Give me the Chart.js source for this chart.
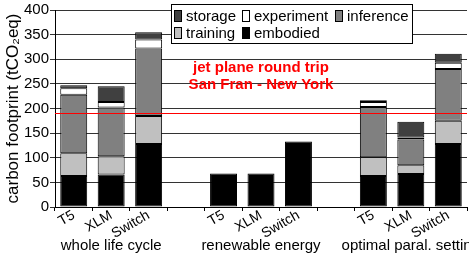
<!DOCTYPE html>
<html>
<head>
<meta charset="utf-8">
<script src="https://cdn.jsdelivr.net/npm/chart.js@4"></script>
<style>
  body { margin: 0; background: #fff; }
  canvas { display: block; }
</style>
</head>
<body>
<canvas id="footprint" width="469" height="258"></canvas>
<script>
// categories (blank slots separate the three groups)
const models = ['T5', 'XLM', 'Switch', '', 'T5', 'XLM', 'Switch', '', 'T5', 'XLM', 'Switch'];
const groupNames = ['whole life cycle', 'renewable energy', 'optimal paral. setting'];
const groupCenters = [1, 5, 9];

// stacked values, tCO2eq
const embodied   = [63, 66, 128, null, 68, 68, 133, null, 63, 67, 128];
const training   = [46, 37, 57,  null, null, null, null, null, 38, 18, 47];
const inference  = [119, 99, 137, null, null, null, null, null, 102, 52, 105];
const experiment = [13, 11, 18,  null, null, null, null, null, 10, 4, 13];
const storage    = [6, 32, 15,   null, null, null, null, null, 4, 32, 18];

const jetPlane = 190;
const jetText = ['jet plane round trip', 'San Fran - New York'];

const FONT = 'Liberation Sans, Arial, sans-serif';

const series = [
  { label: 'embodied', data: embodied, color: '#000000' },
  { label: 'training', data: training, color: '#c0c0c0' },
  { label: 'inference', data: inference, color: '#808080' },
  { label: 'experiment', data: experiment, color: '#ffffff' },
  { label: 'storage', data: storage, color: '#404040' },
];

// legend rows as in the figure
const legendRows = [['storage', 'experiment', 'inference'], ['training', 'embodied']];

const extras = {
  id: 'extras',
  afterDatasetsDraw(chart) {
    const ctx = chart.ctx;
    const x = chart.scales.x, y = chart.scales.y;
    const area = chart.chartArea;

    // jet plane reference line
    const yy = Math.round(y.getPixelForValue(jetPlane)) + 0.5;
    ctx.save();
    ctx.strokeStyle = '#ff0000';
    ctx.lineWidth = 1;
    ctx.beginPath();
    ctx.moveTo(area.left, yy);
    ctx.lineTo(area.right, yy);
    ctx.stroke();

    ctx.fillStyle = '#ff0000';
    ctx.font = 'bold 15px ' + FONT;
    ctx.textAlign = 'center';
    ctx.textBaseline = 'middle';
    const cx = x.getPixelForValue(5);
    ctx.fillText(jetText[0], cx, 68);
    ctx.fillText(jetText[1], cx, 85);

    // legend
    ctx.fillStyle = '#fff';
    ctx.fillRect(171.5, 4.5, 241, 39);
    ctx.strokeStyle = '#000';
    ctx.strokeRect(171.5, 4.5, 241, 39);
    const cols = [174, 242, 335];
    ctx.font = '15px ' + FONT;
    ctx.textAlign = 'left';
    legendRows.forEach((row, r) => {
      const cyRow = r === 0 ? 16 : 33;
      row.forEach((name, c) => {
        const s = series.find(d => d.label === name);
        ctx.fillStyle = s.color;
        ctx.fillRect(cols[c] + 0.5, cyRow - 5.5, 7, 11);
        ctx.strokeStyle = '#000';
        ctx.strokeRect(cols[c] + 0.5, cyRow - 5.5, 7, 11);
        ctx.fillStyle = '#000';
        ctx.fillText(name, cols[c] + 12, cyRow + 1);
      });
    });

    // group names under the x axis
    ctx.textAlign = 'center';
    ctx.fillStyle = '#000';
    groupNames.forEach((g, i) => {
      ctx.fillText(g, x.getPixelForValue(groupCenters[i]), 246);
    });
    ctx.restore();
  }
};

new Chart(document.getElementById('footprint'), {
  type: 'bar',
  data: {
    labels: models,
    datasets: series.map(s => ({
      label: s.label,
      data: s.data,
      backgroundColor: s.color,
      borderColor: '#000',
      borderWidth: 1,
      borderSkipped: false,
      barPercentage: 0.72,
      categoryPercentage: 1.0,
    }))
  },
  options: {
    responsive: false,
    animation: false,
    layout: { padding: { top: 7, right: 2, left: 0, bottom: 0 } },
    plugins: {
      legend: { display: false },
      tooltip: { enabled: false },
    },
    scales: {
      x: {
        stacked: true,
        offset: true,
        border: { color: '#000', width: 1 },
        grid: { offset: true, drawOnChartArea: false, tickLength: 4, color: '#000' },
        ticks: {
          font: { family: FONT, size: 14 },
          color: '#000',
          maxRotation: 30,
          minRotation: 30,
          autoSkip: false,
          padding: -4,
        },
        afterFit(scale) { scale.height = 51; },
      },
      y: {
        stacked: true,
        min: 0,
        max: 400,
        border: { color: '#000', width: 1 },
        grid: {
          color: ctx => (ctx.tick && ctx.tick.value % 50 === 0) ? '#333' : '#c8c8c8',
          tickLength: 5,
        },
        ticks: {
          stepSize: 25,
          font: { family: FONT, size: 15 },
          color: '#000',
          padding: 1,
          callback: v => (v % 50 === 0 ? v : ''),
        },
        title: {
          display: true,
          text: 'carbon footprint (tCO₂eq)',
          font: { family: FONT, size: 17 },
          color: '#000',
          padding: { top: 3, bottom: 0 },
        },
        afterFit(scale) { scale.width = 55; },
      }
    }
  },
  plugins: [extras]
});
</script>
</body>
</html>
